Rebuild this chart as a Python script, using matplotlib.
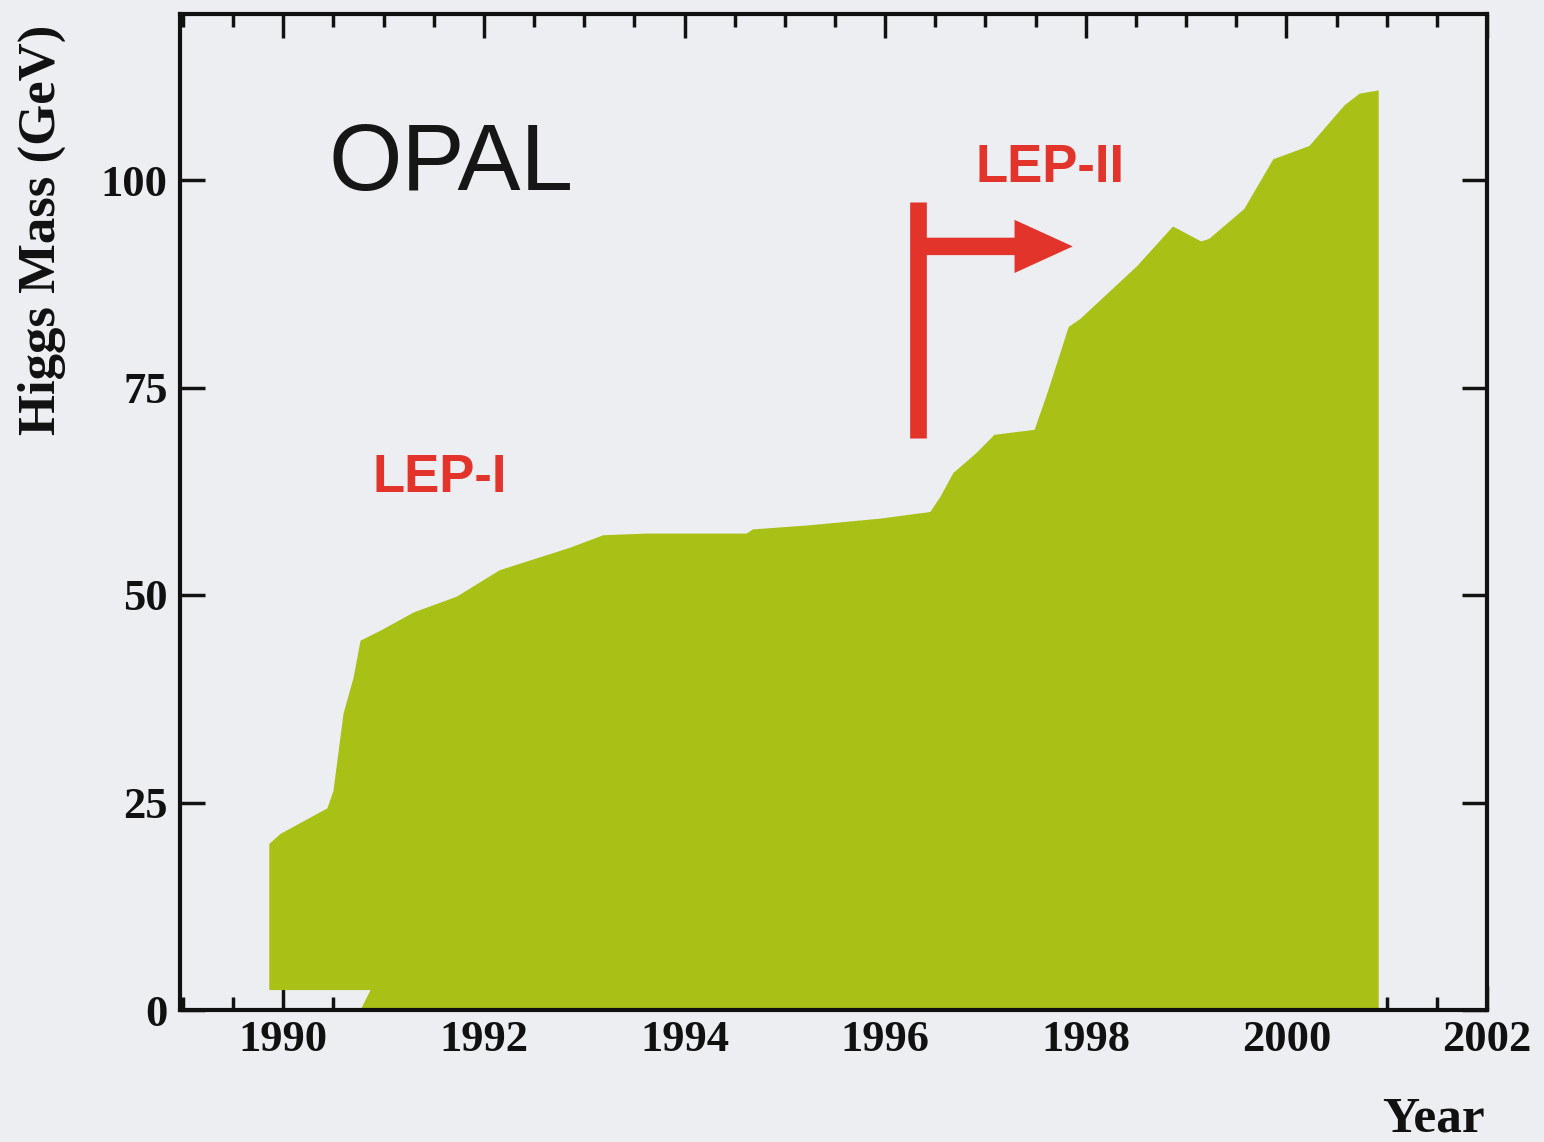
import matplotlib
matplotlib.use("Agg")
import matplotlib.pyplot as plt
from matplotlib.ticker import MultipleLocator

# upper edge of the excluded region (lower limit on the Higgs mass, GeV)
years = [1989.86, 1989.97, 1990.44, 1990.50, 1990.60, 1990.70, 1990.77, 1990.97,
         1991.30, 1991.73, 1992.16, 1992.86, 1993.19, 1993.63, 1994.62, 1994.68,
         1995.25, 1995.95, 1996.45, 1996.55, 1996.68, 1996.91, 1997.09, 1997.49,
         1997.62, 1997.83, 1997.94, 1998.51, 1998.87, 1999.15, 1999.23, 1999.58,
         1999.87, 2000.23, 2000.58, 2000.73, 2000.92]
mass = [20.0, 21.2, 24.3, 26.4, 35.7, 40.0, 44.5, 45.7,
        47.9, 49.8, 53.0, 55.7, 57.2, 57.4, 57.4, 57.9,
        58.4, 59.2, 60.0, 61.8, 64.7, 67.1, 69.3, 69.9,
        74.4, 82.3, 83.2, 89.6, 94.4, 92.6, 92.9, 96.5,
        102.5, 104.1, 109.0, 110.4, 110.8]

# lower edge (small notch under the first year)
base_years = [1989.86, 1990.87, 1990.77, 2000.92]
base_mass = [2.4, 2.4, 0.0, 0.0]

year_ticks = [1990, 1992, 1994, 1996, 1998, 2000, 2002]
mass_ticks = [0, 25, 50, 75, 100]

# LEP-II start marker
lep2_year = 1996.33
lep2_bar = (68.9, 97.3)
lep2_arrow_y = 92.0
lep2_arrow_end = 1997.87

green = '#a9c016'
red = '#e2342a'
bg = '#eceef1'

plt.rcParams['font.family'] = ['Liberation Serif', 'DejaVu Serif']
plt.rcParams['font.weight'] = 'bold'

fig = plt.figure(figsize=(15.44, 11.42), dpi=100, facecolor=bg)
ax = fig.add_axes([180 / 1544, 1 - 1010 / 1142, 1307 / 1544, 996 / 1142])
ax.set_facecolor(bg)

xs = years + base_years[::-1]
ys = mass + base_mass[::-1]
ax.fill(xs, ys, color=green, lw=0, zorder=1)

# LEP-II marker
ax.plot([lep2_year, lep2_year], lep2_bar, color=red, lw=12, solid_capstyle='butt', zorder=3)
ax.arrow(lep2_year, lep2_arrow_y, lep2_arrow_end - lep2_year, 0, width=2.1,
         head_width=6.4, head_length=0.58, length_includes_head=True,
         color=red, lw=0, zorder=3)

ax.text(1990.45, 98.8, 'OPAL', family='Liberation Sans', weight='normal',
        fontsize=68, color='#161616', va='baseline', ha='left')
ax.text(1990.89, 62.4, 'LEP-I', family='Liberation Sans', weight='bold',
        fontsize=38, color=red, va='baseline', ha='left')
ax.text(1996.90, 99.8, 'LEP-II', family='Liberation Sans', weight='bold',
        fontsize=38, color=red, va='baseline', ha='left')

ax.set_xlim(1988.97, 2002.0)
ax.set_ylim(0, 120)
ax.set_xticks(year_ticks)
ax.set_yticks(mass_ticks)
ax.xaxis.set_minor_locator(MultipleLocator(0.5))
ax.set_axisbelow(True)

ax.tick_params(axis='both', which='both', direction='in', top=True, right=True,
               width=2.5, color='#111111', labelsize=32, labelcolor='#111111')
ax.tick_params(axis='x', which='major', length=17, pad=7)
ax.tick_params(axis='x', which='minor', length=9.5)
ax.tick_params(axis='y', which='major', length=18, pad=9)
for s in ax.spines.values():
    s.set_linewidth(3)
    s.set_color('#111111')

ax.set_ylabel('Higgs Mass (GeV)', fontsize=38, weight='bold', color='#111111',
              va='center', ha='center')
ax.yaxis.set_label_coords(-0.1056, 0.783)
ax.set_xlabel('Year', fontsize=37, weight='bold', color='#111111',
              va='center', ha='center')
ax.xaxis.set_label_coords(0.959, -0.11)

fig.savefig('out.png', dpi=100, facecolor=bg)
